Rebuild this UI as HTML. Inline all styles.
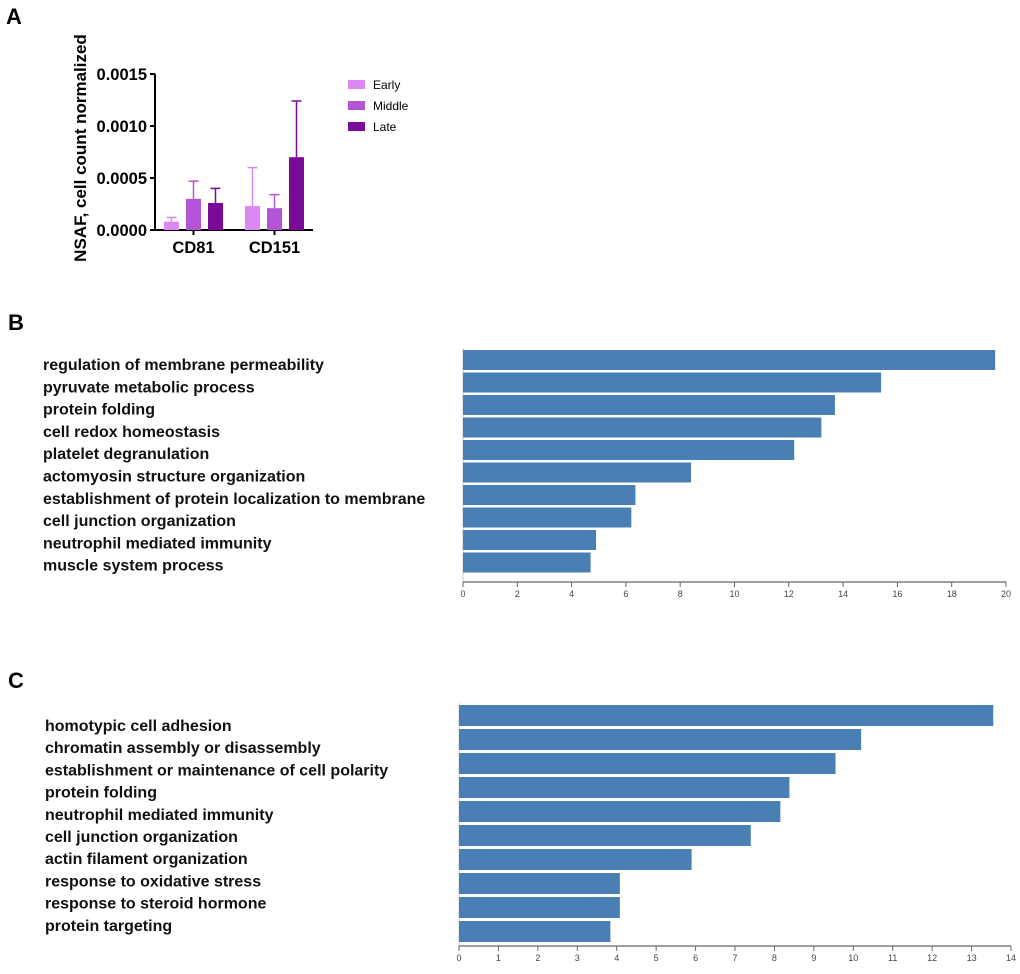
<!DOCTYPE html>
<html><head><meta charset="utf-8"><style>
html,body{margin:0;padding:0;background:#fff;}
svg{display:block;font-family:"Liberation Sans",Arial,sans-serif;}
</style></head><body>
<svg id="fig" width="1020" height="974" viewBox="0 0 1020 974">
<text x="6" y="24" font-size="22" font-weight="bold">A</text>
<text x="8" y="330" font-size="22" font-weight="bold">B</text>
<text x="8" y="688" font-size="22" font-weight="bold">C</text>
<g id="pa"></g>
<g id="pb"></g>
<g id="pc"></g>
</svg>
<script>
const aGroups=["CD81","CD151"];
const aSeries=["Early","Middle","Late"];
const aColors=["#dd88f2","#b455d8","#7a0a98"];
const aEarly=[0.00008,0.00023];
const aMiddle=[0.0003,0.00021];
const aLate=[0.00026,0.0007];
const aEarlyErr=[0.00012,0.0006];
const aMiddleErr=[0.00047,0.00034];
const aLateErr=[0.0004,0.00124];
const aTicks=[0,0.0005,0.0010,0.0015];
const aTickLabels=["0.0000","0.0005","0.0010","0.0015"];

const bTerms=["regulation of membrane permeability","pyruvate metabolic process","protein folding","cell redox homeostasis","platelet degranulation","actomyosin structure organization","establishment of protein localization to membrane","cell junction organization","neutrophil mediated immunity","muscle system process"];
const bValues=[19.6,15.4,13.7,13.2,12.2,8.4,6.35,6.2,4.9,4.7];
const bTicks=[0,2,4,6,8,10,12,14,16,18,20];

const cTerms=["homotypic cell adhesion","chromatin assembly or disassembly","establishment or maintenance of cell polarity","protein folding","neutrophil mediated immunity","cell junction organization","actin filament organization","response to oxidative stress","response to steroid hormone","protein targeting"];
const cValues=[13.55,10.2,9.55,8.38,8.15,7.4,5.9,4.08,4.08,3.84];
const cTicks=[0,1,2,3,4,5,6,7,8,9,10,11,12,13,14];

const NS="http://www.w3.org/2000/svg";
function mk(parent,tag,attrs,text){const e=document.createElementNS(NS,tag);for(const k in attrs)e.setAttribute(k,attrs[k]);if(text!==undefined)e.textContent=text;parent.appendChild(e);return e;}

// Panel A
(function(){
const g=document.getElementById('pa');
const y0=230,yTop=74,maxV=0.0015,x0=155,x1=313;
const ys=v=>y0-(v/maxV)*(y0-yTop);
let l=mk(g,'line',{x1:x0,y1:yTop,x2:x0,y2:y0,stroke:'#000','stroke-width':2});


l=mk(g,'line',{x1:x0,y1:y0,x2:x1,y2:y0,stroke:'#000','stroke-width':2});


aTicks.forEach((t,i)=>{
 const y=ys(t);
 const tk=mk(g,'line',{x1:x0-5,y1:y,x2:x0,y2:y,stroke:'#000','stroke-width':2});
 
 
 const tl=mk(g,'text',{x:x0-8,y:y+6,'font-size':16.5,'font-weight':'bold','text-anchor':'end'},aTickLabels[i]);
 
 
});
const yt=mk(g,'text',{x:0,y:0,'font-size':17,'font-weight':'bold','text-anchor':'middle',transform:'translate(86,148) rotate(-90)'},'NSAF, cell count normalized');


const vals=[aEarly,aMiddle,aLate],errs=[aEarlyErr,aMiddleErr,aLateErr];
const groupStart=[164,245],bw=15,step=22;
aGroups.forEach((gname,gi)=>{
 aSeries.forEach((s,si)=>{
  const x=groupStart[gi]+si*step;
  const v=vals[si][gi],e=errs[si][gi];
  const r=mk(g,'rect',{x:x,y:ys(v),width:bw,height:y0-ys(v),fill:aColors[si]});
  
  
  const cx=x+bw/2;
  const el=mk(g,'path',{d:`M${cx},${ys(v)}V${ys(e)}M${cx-5},${ys(e)}H${cx+5}`,stroke:aColors[si],'stroke-width':1.5,fill:'none'});
  
  
 });
 const cx=groupStart[gi]+step+bw/2;
 const tk=mk(g,'line',{x1:cx,y1:y0,x2:cx,y2:y0+5,stroke:'#000','stroke-width':2});
 
 
 const tl=mk(g,'text',{x:cx,y:y0+23,'font-size':16.5,'font-weight':'bold','text-anchor':'middle'},gname);
 
 
});
aSeries.forEach((s,si)=>{
 const y=80+si*21;
 const sw=mk(g,'rect',{x:348,y:y,width:17,height:9,fill:aColors[si]});
 
 
 const t=mk(g,'text',{x:373,y:y+9,'font-size':12},s);
 
 
});
})();

function hbar(gid,terms,values,ticks,cfg){
 const g=document.getElementById(gid);
 const maxV=ticks[ticks.length-1];
 const xs=v=>cfg.x0+(v/maxV)*(cfg.x1-cfg.x0);
 let l=mk(g,'line',{x1:cfg.x0,y1:cfg.top-2,x2:cfg.x0,y2:cfg.axisY,stroke:'#ccc','stroke-width':1});
 
 
 terms.forEach((t,i)=>{
  const y=cfg.top+i*cfg.step;
  const r=mk(g,'rect',{x:cfg.x0,y:y,width:xs(values[i])-cfg.x0,height:cfg.bh,fill:'#4a7fb3'});
  
  
  const tx=mk(g,'text',{x:cfg.labelX,y:cfg.labelY+i*cfg.lstep,'font-size':cfg.fs,'font-weight':'bold',fill:'#111'},t);
  
  
 });
 l=mk(g,'line',{x1:cfg.x0,y1:cfg.axisY,x2:cfg.x1,y2:cfg.axisY,stroke:'#666','stroke-width':1.2});
 
 
 ticks.forEach(t=>{
  const x=xs(t);
  const tk=mk(g,'line',{x1:x,y1:cfg.axisY,x2:x,y2:cfg.axisY+5,stroke:'#666','stroke-width':1});
  
  
  const tl=mk(g,'text',{x:x,y:cfg.axisY+15,'font-size':9,'text-anchor':'middle',fill:'#444'},String(t));
  
  
 });
}
hbar('pb',bTerms,bValues,bTicks,{x0:463,x1:1006,top:350,step:22.5,bh:20,axisY:582,labelX:43,labelY:370,lstep:22.3,fs:16});
hbar('pc',cTerms,cValues,cTicks,{x0:459,x1:1011,top:705,step:24,bh:21,axisY:946,labelX:45,labelY:731,lstep:22.2,fs:16});
</script>
</body></html>
